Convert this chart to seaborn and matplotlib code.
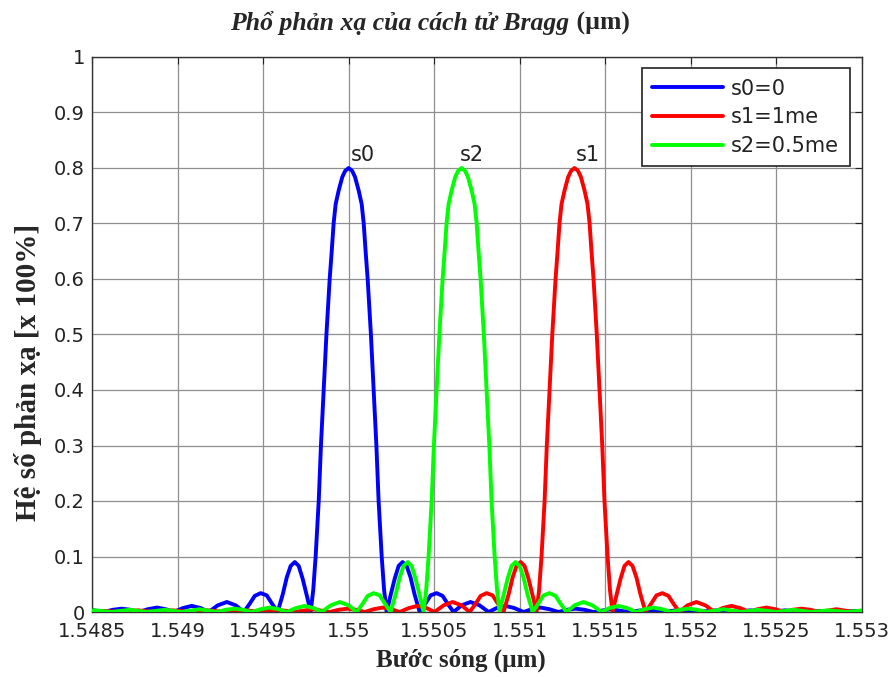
import numpy as np
import pandas as pd
import matplotlib
matplotlib.use("Agg")
import matplotlib.pyplot as plt
import seaborn as sns

# Reflection profile of the grating, one side of the symmetric spectrum:
# detuning from the Bragg wavelength (pm) and reflectance (x 100%)
detune_pm = [0, 20, 37, 58, 76, 88, 99, 111, 130, 146, 162, 175, 193, 207, 222,
             245, 269, 292, 315, 339, 362, 385, 415,
             450, 479, 514, 549, 578, 613,
             660, 712, 765, 818,
             864, 917, 969, 1022,
             1069, 1121, 1174, 1226,
             1276, 1326, 1378, 1431,
             1530, 1635, 1734, 1840, 1939, 2044, 2143, 2248,
             2348, 2453, 2552, 2657, 2756, 2862, 2961, 3066]
reflect = [0.800, 0.795, 0.784, 0.760, 0.735, 0.700, 0.650, 0.600, 0.500, 0.400, 0.300,
           0.200, 0.100, 0.040, 0.000,
           0.030, 0.060, 0.083, 0.090, 0.083, 0.062, 0.032, 0.000,
           0.016, 0.030, 0.034, 0.029, 0.015, 0.000,
           0.012, 0.018, 0.012, 0.000,
           0.007, 0.011, 0.007, 0.000,
           0.005, 0.008, 0.005, 0.000,
           0.004, 0.006, 0.004, 0.000,
           0.005, 0.000, 0.004, 0.000, 0.004, 0.000, 0.003, 0.000,
           0.003, 0.000, 0.003, 0.000, 0.002, 0.000, 0.002, 0.000]

# Bragg wavelength (um) of each strain state
series_names = ["s0=0", "s1=1me", "s2=0.5me"]
peak_tags = ["s0", "s1", "s2"]
bragg_um = [1.55000, 1.55132, 1.55066]
colors = ["#0000ff", "#ff0000", "#00ff00"]

xticks = [1.5485, 1.549, 1.5495, 1.55, 1.5505, 1.551, 1.5515, 1.552, 1.5525, 1.553]
xtick_labels = ["1.5485", "1.549", "1.5495", "1.55", "1.5505", "1.551",
                "1.5515", "1.552", "1.5525", "1.553"]
yticks = [0, 0.1, 0.2, 0.3, 0.4, 0.5, 0.6, 0.7, 0.8, 0.9, 1]
ytick_labels = ["0", "0.1", "0.2", "0.3", "0.4", "0.5", "0.6", "0.7", "0.8", "0.9", "1"]

# full symmetric profile
d = np.array(detune_pm, dtype=float)
r = np.array(reflect, dtype=float)
d_full = np.concatenate([-d[::-1], d[1:]])
r_full = np.concatenate([r[::-1], r[1:]])

frames = []
for name, c0 in zip(series_names, bragg_um):
    frames.append(pd.DataFrame({"wl": c0 + d_full * 1e-6, "R": r_full, "series": name}))
df = pd.concat(frames, ignore_index=True)

sns.set_style("white")
plt.rcParams["font.family"] = ["DejaVu Sans"]

fig = plt.figure(figsize=(8.96, 6.77), dpi=100)
ax = fig.add_axes([92 / 896, 65 / 677, 770 / 896, 555 / 677])

sns.lineplot(data=df, x="wl", y="R", hue="series", hue_order=series_names,
             palette=colors, estimator=None, sort=False, lw=2.8, ax=ax,
             legend=True)
for line in ax.get_lines():
    if line.get_color() == "#00ff00":
        line.set_zorder(3)

ax.set_xlim(1.5485, 1.553)
ax.set_ylim(0, 1)
ax.set_xticks(xticks)
ax.set_xticklabels(xtick_labels)
ax.set_yticks(yticks)
ax.set_yticklabels(ytick_labels)
ax.grid(True, color="#8f8f8f", lw=0.9)
ax.set_axisbelow(True)
ax.tick_params(direction="in", length=5, width=0.8, top=True, right=True,
               labelsize=14, colors="#222222")
ax.tick_params(axis="x", pad=7)
ax.tick_params(axis="y", pad=5)
for sp in ax.spines.values():
    sp.set_color("#333333")
    sp.set_linewidth(1.0)
    sp.set_visible(True)
ax.set_xlabel("")
ax.set_ylabel("")

fig.text(461 / 896, 1 - 660 / 677, "Bước sóng (µm)", family="Liberation Serif",
         fontweight="bold", fontsize=18, ha="center", va="center")
fig.text(28 / 896, 1 - 372 / 677, "Hệ số phản xạ [x 100%]", family="Liberation Serif",
         fontweight="bold", fontsize=21, rotation=90, ha="center", va="center")

# tags over each reflection peak
tag_dx = {"s0": 0.000012, "s1": 0.000005, "s2": -0.000012}
for tag, c0 in zip(peak_tags, bragg_um):
    ax.text(c0 + tag_dx[tag], 0.823, tag, ha="left", va="center", fontsize=15,
            color="#222222")

leg = ax.legend(loc="upper right", bbox_to_anchor=(0.984, 0.980), borderaxespad=0,
                fancybox=False, edgecolor="#222222", framealpha=1, fontsize=15,
                handlelength=3.4, handletextpad=0.4, labelspacing=0.42,
                borderpad=0.5, title=None)
leg.get_frame().set_linewidth(1.2)
for t in leg.get_texts():
    t.set_color("#222222")

# title: italic Vietnamese text followed by upright unit
fig.canvas.draw()
ty = 1 - 23 / 677
t1 = fig.text(0.0, ty, "Phổ phản xạ của cách tử Bragg", family="Liberation Serif",
              fontweight="bold", style="italic", fontsize=18.5, va="center", ha="left")
t2 = fig.text(0.0, ty, " (µm)", family="Liberation Serif",
              fontweight="bold", fontsize=18.5, va="center", ha="left")
fig.canvas.draw()
renderer = fig.canvas.get_renderer()
w1 = t1.get_window_extent(renderer).width
w2 = t2.get_window_extent(renderer).width
cx = 430
x0 = cx - (w1 + w2) / 2
t1.set_x(x0 / 896)
t2.set_x((x0 + w1) / 896)

fig.savefig("out.png", dpi=100)
